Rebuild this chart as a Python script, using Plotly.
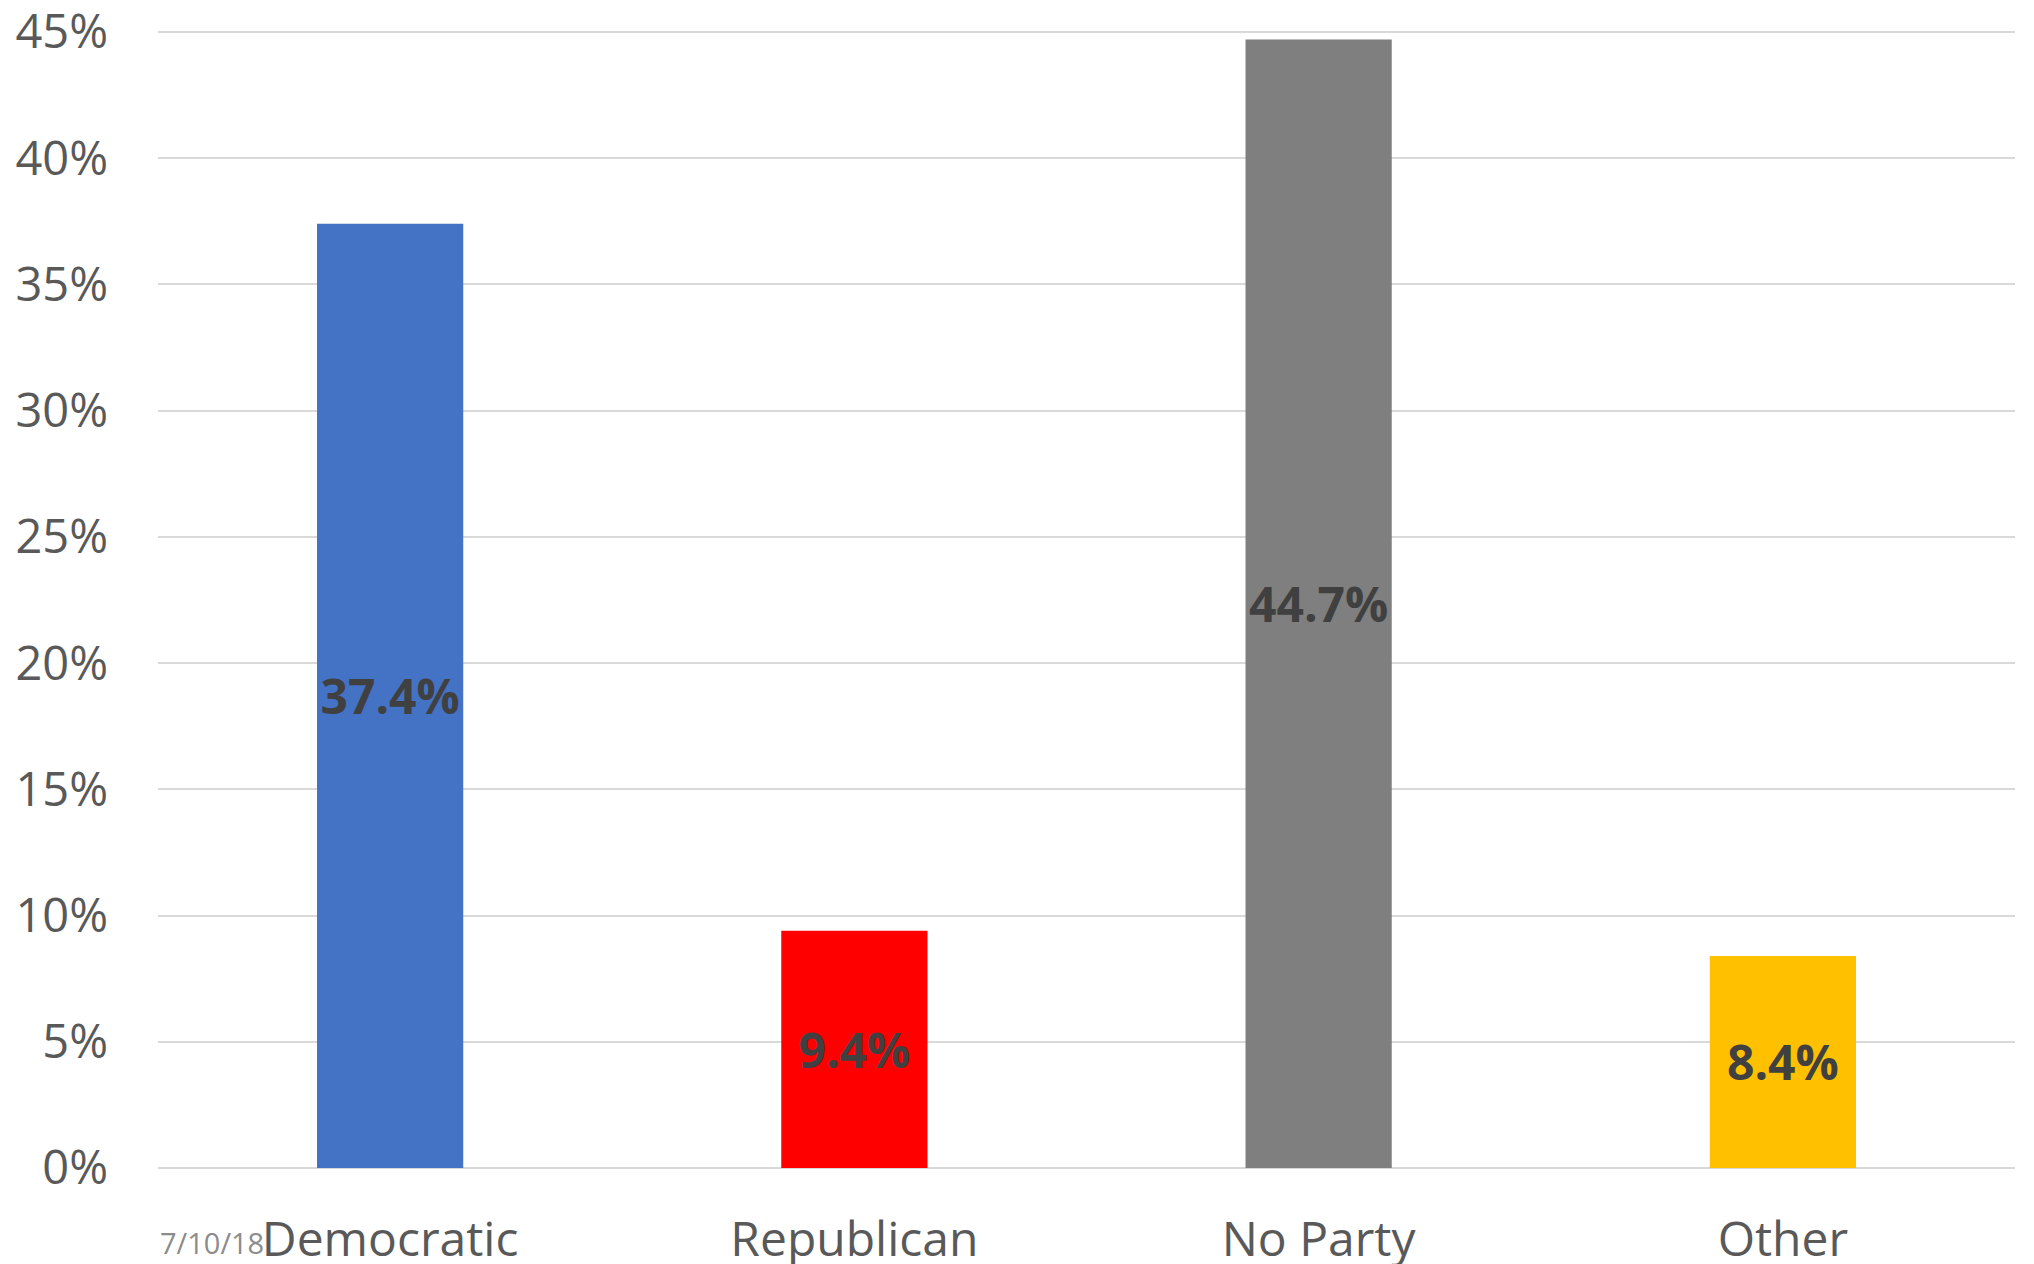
import plotly.graph_objects as go

categories = ["Democratic", "Republican", "No Party", "Other"]
values = [37.4, 9.4, 44.7, 8.4]
bar_colors = ["#4472C4", "#FF0000", "#7F7F7F", "#FFC000"]
tick_vals = [0, 5, 10, 15, 20, 25, 30, 35, 40, 45]
tick_text = [f"{v}%" for v in tick_vals]
date_note = "7/10/18"

fig = go.Figure(
    go.Bar(
        x=categories,
        y=values,
        marker=dict(color=bar_colors, line=dict(width=0)),
        text=[f"{v:.1f}%" for v in values],
        textposition="inside",
        insidetextanchor="middle",
        constraintext="none",
        textangle=0,
        textfont=dict(family="Open Sans", size=48, color="#404040", weight="bold"),
        hoverinfo="skip",
    )
)

fig.update_layout(
    width=2034,
    height=1264,
    paper_bgcolor="white",
    plot_bgcolor="white",
    margin=dict(l=158, r=19, t=30, b=96, pad=0, autoexpand=False),
    bargap=0.685,
    showlegend=False,
    font=dict(family="Open Sans", color="#595959"),
)

fig.update_yaxes(
    range=[0, 45.08],
    tickvals=tick_vals,
    ticktext=tick_text,
    tickfont=dict(family="Open Sans", size=47, color="#595959"),
    showgrid=True,
    gridcolor="#D9D9D9",
    gridwidth=2,
    zeroline=True,
    zerolinecolor="#D9D9D9",
    zerolinewidth=2,
    showline=False,
    ticks="",
    ticklabelstandoff=49,
    ticklabeloverflow="allow",
    automargin=False,
    fixedrange=True,
)

fig.update_xaxes(
    tickfont=dict(family="Open Sans", size=48, color="#595959"),
    showline=False,
    showgrid=False,
    ticks="",
    ticklabelstandoff=39,
    ticklabeloverflow="allow",
    automargin=False,
    fixedrange=True,
)

fig.add_annotation(
    text=date_note,
    xref="paper",
    yref="paper",
    x=0.0,
    y=-0.0844,
    xanchor="left",
    yanchor="bottom",
    showarrow=False,
    font=dict(family="Open Sans", size=29, color="#8C8C8C"),
)

fig.write_html(
    "out.html",
    config={"displayModeBar": False},
    post_script="document.body.style.margin='0';document.body.style.overflow='hidden';",
)
